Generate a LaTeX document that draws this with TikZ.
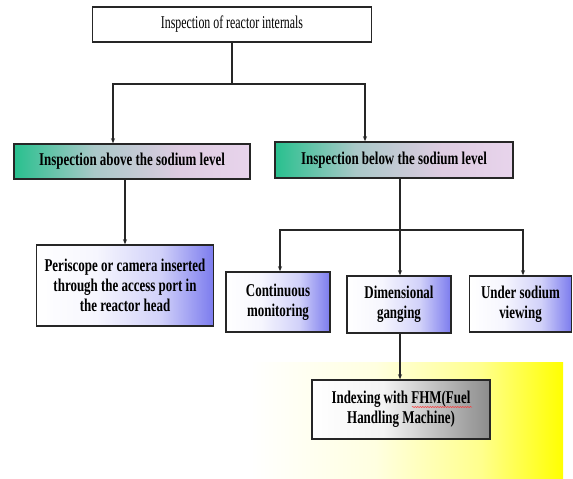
\documentclass[tikz,border=0pt]{standalone}
\usepackage{fontspec}
\setmainfont[FakeStretch=0.72]{Liberation Serif}
\newfontfamily\headfont[FakeStretch=0.66]{Liberation Serif}
\usepackage{tikz}
\usetikzlibrary{arrows.meta,decorations.pathmorphing}

\definecolor{sodgreen}{RGB}{40,192,142}
\definecolor{sodmid}{RGB}{170,200,200}
\definecolor{sodpink}{RGB}{232,212,236}
\definecolor{portblue}{RGB}{124,124,238}
\definecolor{fhmgrey}{RGB}{140,140,140}

\pgfdeclarehorizontalshading{levelshade}{100bp}{color(0bp)=(sodgreen); color(25bp)=(sodgreen); color(42bp)=(sodmid); color(60bp)=(sodpink!90!gray); color(75bp)=(sodpink); color(100bp)=(sodpink)}
\pgfdeclarehorizontalshading{portshade}{100bp}{color(0bp)=(white); color(25bp)=(white); color(42bp)=(white!93!portblue); color(60bp)=(white!65!portblue); color(75bp)=(portblue); color(100bp)=(portblue)}
\pgfdeclarehorizontalshading{fhmshade}{100bp}{color(0bp)=(white); color(25bp)=(white); color(45bp)=(white!90!fhmgrey); color(75bp)=(fhmgrey); color(100bp)=(fhmgrey)}
\pgfdeclarehorizontalshading{glowshade}{100bp}{color(0bp)=(white); color(25bp)=(white); color(45bp)=(yellow!12); color(62bp)=(yellow!45); color(75bp)=(yellow); color(100bp)=(yellow)}

\tikzset{
  box/.style={draw=black!85, line width=1.5pt, align=center, inner sep=2pt},
  levelbox/.style={box, shading=levelshade, font=\fontsize{18}{20}\selectfont\bfseries},
  portbox/.style={box, shading=portshade, font=\fontsize{18}{20}\selectfont\bfseries},
  fhmbox/.style={box, shading=fhmshade, font=\fontsize{18}{20}\selectfont\bfseries},
  arr/.style={-{Stealth[length=5pt,width=4pt]}, line width=1.3pt, black!85},
  link/.style={line width=1.3pt, black!85}
}

\begin{document}
\begin{tikzpicture}[x=1pt,y=-1pt]
\useasboundingbox (0,0) rectangle (573,479);
% yellow glow behind the last box
\shade[shading=glowshade] (250,362) rectangle (563,479);

\node[box, fill=white, minimum width=279pt, minimum height=35pt, font=\headfont\fontsize{18}{20}\selectfont] (top) at (232,24.5) {Inspection of reactor internals};

\node[levelbox, minimum width=236pt, minimum height=35pt] (above) at (132,161.5) {Inspection above the sodium level};
\node[levelbox, minimum width=238pt, minimum height=36pt] (below) at (394,160) {Inspection below the sodium level};

\node[portbox, minimum width=177pt, minimum height=81pt] (peri) at (125,285.5) {Periscope or camera inserted\\through the access port in\\the reactor head};

\node[portbox, minimum width=104pt, minimum height=60pt] (cont) at (278,302) {Continuous\\monitoring};
\node[portbox, minimum width=104pt, minimum height=57pt] (dim) at (399,304.5) {Dimensional\\ganging};
\node[portbox, minimum width=102pt, minimum height=56pt] (under) at (520.5,304) {Under sodium\\viewing};

\node[fhmbox, minimum width=178pt, minimum height=59pt] (index) at (401,409.5) {Indexing with FHM(Fuel\\Handling Machine)};
\draw[red!80, line width=0.5pt, decorate, decoration={snake,amplitude=0.6pt,segment length=2.5pt}] ([xshift=11pt,yshift=2.5pt]index.center) -- ++(60,0);

\coordinate (s1) at (232,84);
\coordinate (s2) at (400,230);

\draw[link] (top.south) -- (s1);
\draw[arr] (s1) -| ([xshift=-19pt]above.north);
\draw[arr] (s1) -| ([xshift=-29pt]below.north);
\draw[arr] (above.south -| peri.north) -- (peri.north);

\draw[link] (below.south -| s2) -- (s2);
\draw[arr] (s2) -| ([xshift=2pt]cont.north);
\draw[arr] (s2) -- (dim.north -| s2);
\draw[arr] (s2) -| ([xshift=2.5pt]under.north);

\draw[arr] (dim.south -| s2) -- (index.north -| s2);
\end{tikzpicture}
\end{document}
